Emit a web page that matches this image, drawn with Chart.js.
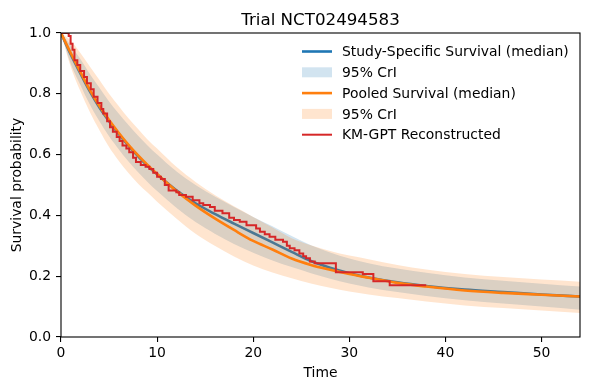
<!DOCTYPE html>
<html lang="en">
<head>
  <meta charset="UTF-8">
  <title>Trial NCT02494583</title>
  <script src="https://cdn.jsdelivr.net/npm/chart.js"></script>
  <style>
    body { margin: 0; background: #fff; }
  </style>
</head>
<body>
  <canvas id="survChart" width="590" height="390"></canvas>

  <script>
    // Posterior summaries on a shared time grid
    const bandTimes = [0, 1, 2, 3, 4, 5, 6, 7, 8, 9, 10, 12, 14, 16, 18, 20, 22, 24, 26, 28, 30, 32, 35, 38, 42, 46, 50, 54];

    const studyMedian = [1.0, 0.93, 0.868, 0.808, 0.755, 0.71, 0.668, 0.63, 0.595, 0.563, 0.535, 0.483, 0.44, 0.405, 0.373, 0.342, 0.311, 0.28, 0.25, 0.228, 0.21, 0.196, 0.18, 0.168, 0.156, 0.148, 0.14, 0.133];
    const studyUpper  = [1.0, 0.96, 0.915, 0.865, 0.82, 0.775, 0.735, 0.698, 0.663, 0.63, 0.6, 0.545, 0.5, 0.462, 0.428, 0.395, 0.364, 0.332, 0.302, 0.278, 0.258, 0.243, 0.225, 0.211, 0.196, 0.185, 0.175, 0.166];
    const studyLower  = [1.0, 0.9, 0.83, 0.765, 0.71, 0.66, 0.618, 0.578, 0.543, 0.51, 0.48, 0.425, 0.378, 0.34, 0.306, 0.277, 0.252, 0.23, 0.21, 0.192, 0.176, 0.163, 0.148, 0.135, 0.121, 0.11, 0.1, 0.09];

    const pooledMedian = [1.0, 0.935, 0.873, 0.813, 0.76, 0.714, 0.672, 0.633, 0.598, 0.566, 0.536, 0.48, 0.432, 0.39, 0.352, 0.316, 0.288, 0.258, 0.237, 0.221, 0.207, 0.195, 0.178, 0.166, 0.153, 0.145, 0.139, 0.133];
    const pooledUpper  = [1.0, 0.975, 0.935, 0.89, 0.845, 0.8, 0.76, 0.72, 0.685, 0.65, 0.62, 0.56, 0.51, 0.467, 0.43, 0.395, 0.36, 0.325, 0.302, 0.283, 0.268, 0.256, 0.237, 0.222, 0.207, 0.197, 0.189, 0.182];
    const pooledLower  = [1.0, 0.89, 0.81, 0.74, 0.68, 0.625, 0.58, 0.54, 0.505, 0.475, 0.445, 0.39, 0.34, 0.3, 0.265, 0.235, 0.212, 0.193, 0.176, 0.162, 0.15, 0.14, 0.128, 0.117, 0.104, 0.095, 0.087, 0.079];

    // Reconstructed Kaplan-Meier steps (value holds from its time onward)
    const kmTimes = [0, 0.8, 1.0, 1.2, 1.4, 1.7, 2.0, 2.4, 2.7, 3.1, 3.4, 3.8, 4.2, 4.4, 4.8, 5.1, 5.4, 5.8, 6.1, 6.4, 6.8, 7.1, 7.5, 7.8, 8.3, 8.8, 9.2, 9.6, 10.0, 10.4, 10.8, 11.2, 12.0, 12.3, 13.0, 13.7, 14.4, 14.8, 15.5, 16.0, 16.8, 17.5, 18.0, 18.6, 19.3, 20.3, 20.7, 21.2, 21.7, 22.3, 23.1, 23.5, 23.8, 24.3, 24.8, 25.2, 25.5, 25.9, 26.4, 28.6, 31.4, 32.5, 34.2, 38.0];
    const kmSurv  = [1.0, 0.99, 0.965, 0.945, 0.91, 0.895, 0.875, 0.855, 0.835, 0.815, 0.79, 0.77, 0.75, 0.735, 0.71, 0.69, 0.675, 0.658, 0.645, 0.63, 0.62, 0.608, 0.59, 0.576, 0.566, 0.56, 0.553, 0.54, 0.527, 0.52, 0.5, 0.482, 0.476, 0.467, 0.461, 0.45, 0.44, 0.434, 0.428, 0.415, 0.407, 0.392, 0.385, 0.379, 0.368, 0.357, 0.346, 0.338, 0.33, 0.32, 0.313, 0.3, 0.292, 0.285, 0.275, 0.266, 0.259, 0.248, 0.243, 0.213, 0.207, 0.183, 0.17, 0.17];

    const xTicks = [0, 10, 20, 30, 40, 50];
    const yTicks = [0, 0.2, 0.4, 0.6, 0.8, 1.0];

    const legendLabels = ['Study-Specific Survival (median)', '95% CrI', 'Pooled Survival (median)', '95% CrI', 'KM-GPT Reconstructed'];

    const BLUE = '#1f77b4', ORANGE = '#ff7f0e', RED = '#d62728';
    const BLUE_BAND = 'rgba(31,119,180,0.2)', ORANGE_BAND = 'rgba(255,127,14,0.2)';
    const FONT = '"DejaVu Sans", sans-serif';

    const pts = (xs, ys) => xs.map((x, i) => ({ x: x, y: ys[i] }));

    Chart.defaults.font.family = FONT;
    Chart.defaults.color = '#000';

    // title, box and legend drawn the matplotlib way
    const frameAndLegend = {
      id: 'frameAndLegend',
      afterDraw(chart) {
        const { ctx, chartArea: a } = chart;
        ctx.save();
        ctx.strokeStyle = '#000';
        ctx.lineWidth = 1.1;
        ctx.strokeRect(a.left, a.top, a.right - a.left, a.bottom - a.top);

        ctx.fillStyle = '#000';
        ctx.font = '16.7px ' + FONT;
        ctx.textAlign = 'center';
        ctx.textBaseline = 'alphabetic';
        ctx.fillText('Trial NCT02494583', (a.left + a.right) / 2, a.top - 8.3);

        const kinds = [
          { line: BLUE, w: 2.6 }, { patch: BLUE_BAND },
          { line: ORANGE, w: 2.6 }, { patch: ORANGE_BAND },
          { line: RED, w: 2 }
        ];
        const x0 = a.right - 278, y0 = a.top + 18.5, rowH = 20.8;
        ctx.font = '13.9px ' + FONT;
        ctx.textAlign = 'left';
        ctx.textBaseline = 'middle';
        kinds.forEach((k, i) => {
          const y = y0 + i * rowH;
          if (k.line) {
            ctx.strokeStyle = k.line;
            ctx.lineWidth = k.w;
            ctx.beginPath();
            ctx.moveTo(x0, y);
            ctx.lineTo(x0 + 30, y);
            ctx.stroke();
          } else {
            ctx.fillStyle = k.patch;
            ctx.fillRect(x0, y - 5, 30, 10);
          }
          ctx.fillStyle = '#000';
          ctx.fillText(legendLabels[i], x0 + 40, y + 1);
        });
        ctx.restore();
      }
    };

    const bandStyle = { pointRadius: 0, borderWidth: 0, cubicInterpolationMode: 'monotone' };
    const lineStyle = { pointRadius: 0, fill: false, cubicInterpolationMode: 'monotone' };

    new Chart(document.getElementById('survChart'), {
      type: 'line',
      data: {
        datasets: [
          { label: 'KM-GPT Reconstructed', data: pts(kmTimes, kmSurv), borderColor: RED, borderWidth: 2, pointRadius: 0, fill: false, stepped: 'before', order: 0 },
          { label: 'Pooled Survival (median)', data: pts(bandTimes, pooledMedian), borderColor: ORANGE, borderWidth: 2.6, order: 1, ...lineStyle },
          { label: 'Pooled upper', data: pts(bandTimes, pooledUpper), backgroundColor: ORANGE_BAND, fill: '+1', order: 2, ...bandStyle },
          { label: 'Pooled lower', data: pts(bandTimes, pooledLower), fill: false, order: 3, ...bandStyle },
          { label: 'Study-Specific Survival (median)', data: pts(bandTimes, studyMedian), borderColor: BLUE, borderWidth: 2.6, order: 4, ...lineStyle },
          { label: 'Study upper', data: pts(bandTimes, studyUpper), backgroundColor: BLUE_BAND, fill: '+1', order: 5, ...bandStyle },
          { label: 'Study lower', data: pts(bandTimes, studyLower), fill: false, order: 6, ...bandStyle }
        ]
      },
      options: {
        responsive: false,
        animation: false,
        devicePixelRatio: 1,
        layout: { padding: { top: 33, right: 10, left: 0, bottom: 0 } },
        plugins: {
          legend: { display: false },
          title: { display: false },
          tooltip: { enabled: false }
        },
        scales: {
          x: {
            type: 'linear',
            min: 0,
            max: 54,
            afterBuildTicks: s => { s.ticks = xTicks.map(v => ({ value: v })); },
            afterFit: s => { s.height = 53; },
            ticks: { font: { size: 13.9 }, padding: 3, maxRotation: 0, autoSkip: false, color: '#000' },
            grid: { drawOnChartArea: false, drawTicks: true, tickLength: 5, color: '#000', lineWidth: 1.1 },
            border: { display: false },
            title: { display: true, text: 'Time', font: { size: 13.9 }, padding: { top: 4, bottom: 8 } }
          },
          y: {
            type: 'linear',
            min: 0,
            max: 1,
            afterBuildTicks: s => { s.ticks = yTicks.map(v => ({ value: v })); },
            afterFit: s => { s.width = 61; },
            ticks: { font: { size: 13.9 }, padding: 5, color: '#000', callback: v => v.toFixed(1) },
            grid: { drawOnChartArea: false, drawTicks: true, tickLength: 5, color: '#000', lineWidth: 1.1 },
            border: { display: false },
            title: { display: true, text: 'Survival probability', font: { size: 13.9 }, padding: { top: 9, bottom: 4 } }
          }
        }
      },
      plugins: [frameAndLegend]
    });
  </script>
</body>
</html>
